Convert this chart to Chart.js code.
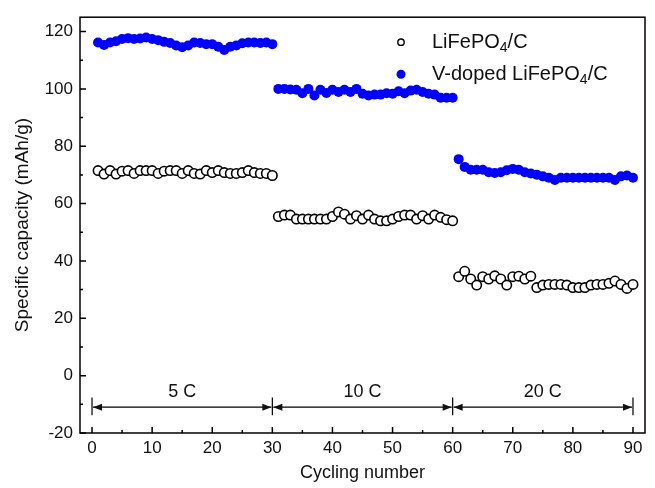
<!DOCTYPE html>
<html><head><meta charset="utf-8">
<script src="https://cdn.jsdelivr.net/npm/chart.js@4.4.1/dist/chart.umd.min.js"></script>
<style>html,body{margin:0;padding:0;background:#fff}#wrap{width:655px;height:488px}</style>
</head><body><div id="wrap"><canvas id="c" width="655" height="488"></canvas></div>
<script>
const cycles = [1,2,3,4,5,6,7,8,9,10,11,12,13,14,15,16,17,18,19,20,21,22,23,24,25,26,27,28,29,30,
  31,32,33,34,35,36,37,38,39,40,41,42,43,44,45,46,47,48,49,50,51,52,53,54,55,56,57,58,59,60,
  61,62,63,64,65,66,67,68,69,70,71,72,73,74,75,76,77,78,79,80,81,82,83,84,85,86,87,88,89,90];
const lfpCapacity = [71.5,70.3,71.5,70.3,71.3,71.5,70.5,71.5,71.5,71.5,70.5,71.3,71.5,71.5,70.5,71.5,70.5,70.3,71.5,70.8,71.5,70.8,70.5,70.5,70.8,71.5,70.8,70.5,70.5,69.8,
  55.5,56.0,56.0,54.6,54.6,54.6,54.6,54.6,54.6,55.5,57.1,56.3,54.6,55.8,54.6,56.0,54.6,54.0,54.0,54.6,55.5,56.0,56.0,54.6,55.8,54.6,56.0,55.2,54.4,54.0,
  34.5,36.4,33.7,31.6,34.5,33.7,34.8,33.7,31.6,34.5,34.7,33.7,34.7,30.7,31.6,31.8,31.8,31.8,31.6,30.7,30.7,30.7,31.6,31.8,31.8,32.2,33.0,31.8,30.4,31.8];
const vDopedCapacity = [116.2,115.3,116.2,116.6,117.4,117.7,117.4,117.6,117.9,117.4,117.0,116.4,116.0,115.1,114.5,115.1,116.2,116.0,115.6,115.6,114.7,113.6,114.7,115.1,115.9,116.2,116.2,116.0,116.2,115.6,
  100.0,100.0,99.8,99.7,98.5,100.0,97.7,99.7,98.6,99.7,98.9,99.7,98.9,100.0,98.3,97.7,98.0,98.0,98.5,98.3,99.2,98.5,99.4,99.7,98.9,98.3,98.0,96.9,96.9,96.9,
  75.5,72.8,71.8,71.8,71.8,70.9,70.7,70.9,71.6,72.1,71.8,70.9,70.5,70.1,69.5,69.0,68.2,69.0,69.0,69.0,69.0,69.0,69.0,69.0,69.0,69.0,68.2,69.5,69.8,69.0];
const seriesNames = ['LiFePO4/C', 'V-doped LiFePO4/C'];
const xTicks = [0,10,20,30,40,50,60,70,80,90];
const yTicks = [-20,0,20,40,60,80,100,120];
const rateLabels = ['5 C','10 C','20 C'];
const rateBounds = [0,30,60,90];
const rateArrowY = -11;
const rateBarTop = -7.6;
const rateBarBottom = -13.8;
const rateLabelY = -5.8;

const FONT = 'Arial, "Liberation Sans", sans-serif';

function drawSubText(ctx, text, x, y, size) {
  let cx = x;
  const parts = text.match(/\d+|\D+/g);
  for (const p of parts) {
    if (/^\d+$/.test(p)) {
      ctx.font = Math.round(size*0.68) + 'px ' + FONT;
      ctx.fillText(p, cx, y + size*0.28);
    } else {
      ctx.font = size + 'px ' + FONT;
      ctx.fillText(p, cx, y);
    }
    cx += ctx.measureText(p).width;
  }
}

const decor = {
  id: 'decor',
  afterDraw(chart) {
    const {ctx, chartArea: a, scales: {x, y}} = chart;
    ctx.save();
    ctx.strokeStyle = '#000';
    ctx.lineWidth = 1.5;
    ctx.strokeRect(a.left, a.top, a.right - a.left, a.bottom - a.top);
    ctx.beginPath();
    for (let i = 0; i < xTicks.length; i++) {
      const px = x.getPixelForValue(xTicks[i]);
      ctx.moveTo(px, a.bottom); ctx.lineTo(px, a.bottom - 6);
      if (i < xTicks.length - 1) {
        const pm = x.getPixelForValue((xTicks[i] + xTicks[i+1]) / 2);
        ctx.moveTo(pm, a.bottom); ctx.lineTo(pm, a.bottom - 3);
      }
    }
    for (let i = 0; i < yTicks.length; i++) {
      const py = y.getPixelForValue(yTicks[i]);
      ctx.moveTo(a.left, py); ctx.lineTo(a.left + 6, py);
      if (i < yTicks.length - 1) {
        const pm = y.getPixelForValue((yTicks[i] + yTicks[i+1]) / 2);
        ctx.moveTo(a.left, pm); ctx.lineTo(a.left + 3, pm);
      }
    }
    ctx.stroke();
    ctx.lineWidth = 1.2;
    ctx.fillStyle = '#111';
    const ay = y.getPixelForValue(rateArrowY);
    const bt = y.getPixelForValue(rateBarTop), bb = y.getPixelForValue(rateBarBottom);
    ctx.beginPath();
    for (const b of rateBounds) {
      const px = x.getPixelForValue(b);
      ctx.moveTo(px, bt); ctx.lineTo(px, bb);
    }
    ctx.stroke();
    for (let i = 0; i < rateLabels.length; i++) {
      const x0 = x.getPixelForValue(rateBounds[i]) + 1;
      const x1 = x.getPixelForValue(rateBounds[i+1]) - 1;
      ctx.beginPath(); ctx.moveTo(x0, ay); ctx.lineTo(x1, ay); ctx.stroke();
      ctx.beginPath();
      ctx.moveTo(x0, ay); ctx.lineTo(x0 + 9, ay - 3.5); ctx.lineTo(x0 + 9, ay + 3.5); ctx.closePath();
      ctx.moveTo(x1, ay); ctx.lineTo(x1 - 9, ay - 3.5); ctx.lineTo(x1 - 9, ay + 3.5); ctx.closePath();
      ctx.fill();
      ctx.font = '18px ' + FONT;
      ctx.textAlign = 'center'; ctx.textBaseline = 'middle';
      ctx.fillText(rateLabels[i], (x0 + x1) / 2, y.getPixelForValue(rateLabelY));
    }
    const lx = a.left + 321, ly1 = a.top + 25, ly2 = a.top + 57;
    ctx.beginPath(); ctx.arc(lx, ly1, 3.2, 0, Math.PI*2);
    ctx.fillStyle = '#fff'; ctx.fill(); ctx.lineWidth = 1.4; ctx.strokeStyle = '#000'; ctx.stroke();
    ctx.beginPath(); ctx.arc(lx, ly2, 4.5, 0, Math.PI*2);
    ctx.fillStyle = '#0000ff'; ctx.fill();
    ctx.fillStyle = '#111'; ctx.textAlign = 'left'; ctx.textBaseline = 'middle';
    drawSubText(ctx, seriesNames[0], a.left + 352, ly1, 20);
    drawSubText(ctx, seriesNames[1], a.left + 352, ly2, 20);
    ctx.restore();
  }
};

new Chart(document.getElementById('c'), {
  type: 'scatter',
  data: {
    datasets: [
      { label: seriesNames[0], data: cycles.map((c, i) => ({x: c, y: lfpCapacity[i]})),
        pointRadius: 4.7, pointBorderWidth: 1.6, borderColor: '#000', backgroundColor: '#fff', showLine: false },
      { label: seriesNames[1], data: cycles.map((c, i) => ({x: c, y: vDopedCapacity[i]})),
        pointRadius: 5, pointBorderWidth: 0, borderColor: '#0000ff', backgroundColor: '#0000ff', showLine: false }
    ]
  },
  options: {
    responsive: false, animation: false, devicePixelRatio: 1,
    layout: { padding: { left: 0, right: 10, top: 13, bottom: 0 } },
    plugins: { legend: { display: false }, tooltip: { enabled: false } },
    scales: {
      x: {
        type: 'linear', min: -2, max: 92,
        afterBuildTicks: s => { s.ticks = xTicks.map(v => ({value: v})); },
        afterFit: s => { s.height = 55; },
        grid: { display: false, drawTicks: false }, border: { display: false },
        ticks: { color: '#111', font: { size: 17, family: FONT }, padding: 5 },
        title: { display: true, text: 'Cycling number', color: '#111', font: { size: 18, family: FONT }, padding: { top: 0, bottom: 4 } }
      },
      y: {
        min: -20, max: 125,
        afterBuildTicks: s => { s.ticks = yTicks.map(v => ({value: v})); },
        afterFit: s => { s.width = 80; },
        grid: { display: false, drawTicks: false }, border: { display: false },
        ticks: { color: '#111', font: { size: 17, family: FONT }, padding: 7 },
        title: { display: true, text: 'Specific capacity (mAh/g)', color: '#111', font: { size: 19, family: FONT }, padding: { top: 11, bottom: 0 } }
      }
    }
  },
  plugins: [decor]
});
</script></body></html>
